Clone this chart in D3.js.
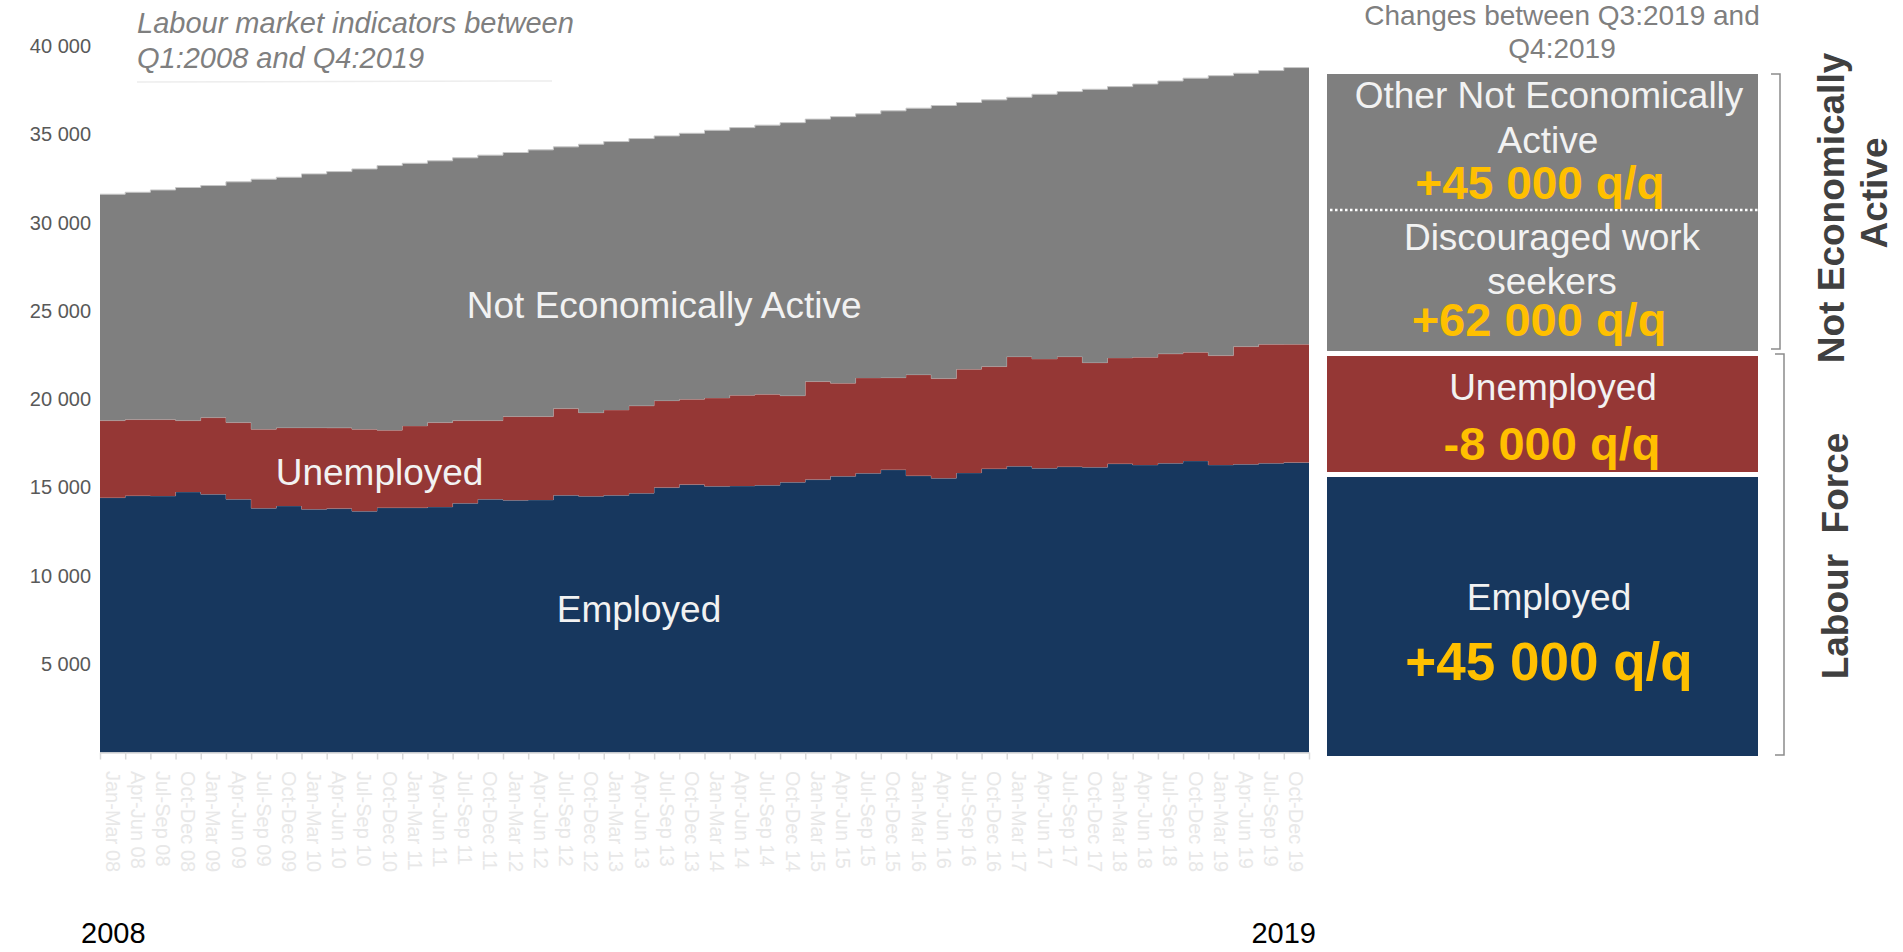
<!DOCTYPE html>
<html>
<head>
<meta charset="utf-8">
<script src="https://cdn.jsdelivr.net/npm/d3@7"></script>
<style>
    body { margin: 0; background: #fff; }
    svg { display: block; font-family: 'Liberation Sans', Arial, sans-serif; }
</style>
</head>
<body>
<script>
'use strict';

// quarterly labour market figures, thousands
const periods = ['Jan-Mar', 'Apr-Jun', 'Jul-Sep', 'Oct-Dec'];
const years = ['08', '09', '10', '11', '12', '13', '14', '15', '16', '17', '18', '19'];
const employed = [
    14430, 14540, 14520, 14750, 14620, 14340, 13830, 13960, 13770, 13810, 13660, 13860,
    13860, 13900, 14110, 14340, 14280, 14300, 14560, 14510, 14560, 14680, 15000, 15170,
    15070, 15090, 15130, 15300, 15450, 15640, 15810, 16010, 15670, 15530, 15830, 16070,
    16210, 16090, 16180, 16150, 16350, 16280, 16380, 16510, 16280, 16320, 16380, 16420
];
const unemployed = [
    4360, 4310, 4330, 4040, 4340, 4340, 4470, 4430, 4620, 4570, 4640, 4390,
    4630, 4780, 4680, 4450, 4740, 4720, 4910, 4730, 4830, 4950, 4920, 4830,
    5000, 5140, 5150, 4900, 5550, 5270, 5400, 5210, 5720, 5640, 5870, 5780,
    6200, 6190, 6230, 5920, 5990, 6100, 6190, 6150, 6190, 6660, 6730, 6700
];
const notActive = [
    12820, 12870, 13000, 13200, 13140, 13630, 14160, 14180, 14370, 14510, 14740, 14980,
    14870, 14820, 14880, 15030, 14950, 15100, 14820, 15200, 15200, 15130, 14990, 15060,
    15160, 15150, 15240, 15460, 14860, 15090, 14950, 15110, 15090, 15460, 15100, 15100,
    14690, 14990, 15010, 15480, 15360, 15470, 15450, 15520, 15850, 15480, 15500, 15660
];
const yTicks = [5000, 10000, 15000, 20000, 25000, 30000, 35000, 40000];
const endYears = ['2008', '2019'];

// right hand panel: change between Q3:2019 and Q4:2019
const panelNames = [['Other Not Economically', 'Active'], ['Discouraged work', 'seekers'], ['Unemployed'], ['Employed']];
const panelChanges = ['+45 000 q/q', '+62 000 q/q', '-8 000 q/q', '+45 000 q/q'];

(function() {
    let svg = d3.select('body')
                .append('svg')
                .attr('width', 1903)
                .attr('height', 952);

    let quarters = [];
    years.forEach((yr) => periods.forEach((p) => quarters.push(p + ' ' + yr)));

    let plot = {left: 100, right: 1309, top: 46, bottom: 752.5};
    let x = d3.scaleLinear().domain([0, quarters.length]).range([plot.left, plot.right]);
    let y = d3.scaleLinear().domain([0, 40000]).range([plot.bottom, plot.top]);

    let colours = {employed: '#17375e', unemployed: '#953735', notActive: '#7f7f7f'};
    let rows = quarters.map((q, i) => ({
        employed: employed[i],
        unemployed: unemployed[i],
        notActive: notActive[i]
    }));
    let series = d3.stack().keys(['employed', 'unemployed', 'notActive'])(rows);

    let area = d3.area()
                 .curve(d3.curveStepAfter)
                 .x((d) => x(d.i))
                 .y0((d) => y(d.lo))
                 .y1((d) => y(d.hi));
    let edge = d3.line()
                 .curve(d3.curveStepAfter)
                 .x((d) => x(d.i))
                 .y((d) => y(d.hi));

    series.forEach((s) => {
        let pts = s.map((d, i) => ({i: i, lo: d[0], hi: d[1]}));
        // carry the last quarter across its own width
        let last = pts[pts.length - 1];
        pts.push({i: pts.length, lo: last.lo, hi: last.hi});
        svg.append('path')
           .attr('d', area(pts))
           .attr('fill', colours[s.key]);
        svg.append('path')
           .attr('d', edge(pts))
           .attr('fill', 'none')
           .attr('stroke', s.key == 'notActive' ? '#c8c8c8' : 'rgba(255,255,255,0.25)')
           .attr('stroke-width', 1);
    });

    // x axis: faint ticks and vertical quarter labels
    svg.append('g')
       .attr('transform', 'translate(0,' + plot.bottom + ')')
       .call(d3.axisBottom(x).tickValues(d3.range(quarters.length + 1)).tickFormat('').tickSize(7).tickSizeOuter(0))
       .call((g) => g.select('.domain').attr('stroke', '#d9d9d9').attr('stroke-width', 1.5))
       .call((g) => g.selectAll('.tick line').attr('stroke', '#d9d9d9').attr('stroke-width', 1.5));
    svg.append('g')
       .selectAll('text')
       .data(quarters)
       .join('text')
       .attr('transform', (d, i) => 'translate(' + x(i + 0.5) + ',771) rotate(90)')
       .attr('dy', '0.35em')
       .style('font-size', '20px')
       .attr('fill', '#e8e8e8')
       .text((d) => d);

    // y axis labels only
    let yAxis = svg.append('g')
                   .attr('transform', 'translate(' + plot.left + ',0)')
                   .call(d3.axisLeft(y).tickValues(yTicks).tickSize(0).tickPadding(9)
                           .tickFormat((d) => d3.format(',')(d).replace(',', ' ')));
    yAxis.select('.domain').remove();
    yAxis.selectAll('text')
         .style('font-family', "'Liberation Sans Narrow', 'Liberation Sans', sans-serif")
         .style('font-size', '20px')
         .attr('fill', '#595959');

    svg.append('text').attr('x', 81).attr('y', 943)
       .style('font-size', '29px').attr('fill', '#000').text(endYears[0]);
    svg.append('text').attr('x', 1316).attr('y', 943).attr('text-anchor', 'end')
       .style('font-size', '29px').attr('fill', '#000').text(endYears[1]);

    // chart title
    let title = svg.append('text')
                   .style('font-size', '29px')
                   .style('font-style', 'italic')
                   .attr('fill', '#7f7f7f');
    title.append('tspan').attr('x', 137).attr('y', 33).text('Labour market indicators between');
    title.append('tspan').attr('x', 137).attr('y', 68).text('Q1:2008 and Q4:2019');
    svg.append('line')
       .attr('x1', 137).attr('x2', 552)
       .attr('y1', 82).attr('y2', 81)
       .attr('stroke', '#ededed').attr('stroke-width', 1.5);

    // series names inside the areas
    let inside = [
        {t: 'Not Economically Active', i: 22.4, v: 24600},
        {t: 'Unemployed', i: 11.1, v: 15150},
        {t: 'Employed', i: 21.4, v: 7390}
    ];
    svg.append('g')
       .selectAll('text')
       .data(inside)
       .join('text')
       .attr('x', (d) => x(d.i))
       .attr('y', (d) => y(d.v))
       .attr('text-anchor', 'middle')
       .style('font-size', '37px')
       .attr('fill', '#f2f2f2')
       .text((d) => d.t);

    // right panel
    let panelTitle = svg.append('text')
                        .attr('text-anchor', 'middle')
                        .style('font-size', '28px')
                        .attr('fill', '#7f7f7f');
    panelTitle.append('tspan').attr('x', 1562).attr('y', 25).text('Changes between Q3:2019 and');
    panelTitle.append('tspan').attr('x', 1562).attr('y', 58).text('Q4:2019');

    let boxX = 1327, boxW = 431;
    let boxes = [
        {y0: 74, y1: 351, fill: colours.notActive},
        {y0: 356, y1: 472, fill: colours.unemployed},
        {y0: 477, y1: 756, fill: colours.employed}
    ];
    svg.append('g')
       .selectAll('rect')
       .data(boxes)
       .join('rect')
       .attr('x', boxX)
       .attr('y', (d) => d.y0)
       .attr('width', boxW)
       .attr('height', (d) => d.y1 - d.y0)
       .attr('fill', (d) => d.fill);
    svg.append('line')
       .attr('x1', boxX + 3).attr('x2', boxX + boxW)
       .attr('y1', 210).attr('y2', 210)
       .attr('stroke', '#fff').attr('stroke-width', 2.5)
       .attr('stroke-dasharray', '2.5,2.5');

    // name lines and change figure for each block
    let blocks = [
        {cx: [1549, 1548], ys: [108, 153], cy: 199, vx: 1540, size: 46},
        {cx: [1552, 1552], ys: [250, 294], cy: 336, vx: 1539, size: 47},
        {cx: [1553], ys: [400], cy: 460, vx: 1552, size: 47},
        {cx: [1549], ys: [610], cy: 680, vx: 1549, size: 53}
    ];
    blocks.forEach((b, k) => {
        panelNames[k].forEach((line, j) => {
            svg.append('text')
               .attr('x', b.cx[j]).attr('y', b.ys[j])
               .attr('text-anchor', 'middle')
               .style('font-size', '37px')
               .attr('fill', '#f2f2f2')
               .text(line);
        });
        svg.append('text')
           .attr('x', b.vx).attr('y', b.cy)
           .attr('text-anchor', 'middle')
           .style('font-size', b.size + 'px')
           .style('font-weight', 'bold')
           .attr('fill', '#ffc000')
           .text(panelChanges[k]);
    });

    // brackets and group names
    svg.append('path')
       .attr('d', 'M1771,74H1780V349H1771M1775,354H1784V755H1775')
       .attr('fill', 'none')
       .attr('stroke', '#8c8c8c')
       .attr('stroke-width', 1.5);
    let groups = [
        {t: 'Not Economically', x: 1844, y: 208},
        {t: 'Active', x: 1887, y: 193},
        {t: 'Labour  Force', x: 1848, y: 556}
    ];
    svg.append('g')
       .selectAll('text')
       .data(groups)
       .join('text')
       .attr('transform', (d) => 'translate(' + d.x + ',' + d.y + ') rotate(-90)')
       .attr('text-anchor', 'middle')
       .style('font-size', '37px')
       .style('font-weight', 'bold')
       .style('white-space', 'pre')
       .attr('fill', '#404040')
       .text((d) => d.t);
})();
</script>
</body>
</html>
